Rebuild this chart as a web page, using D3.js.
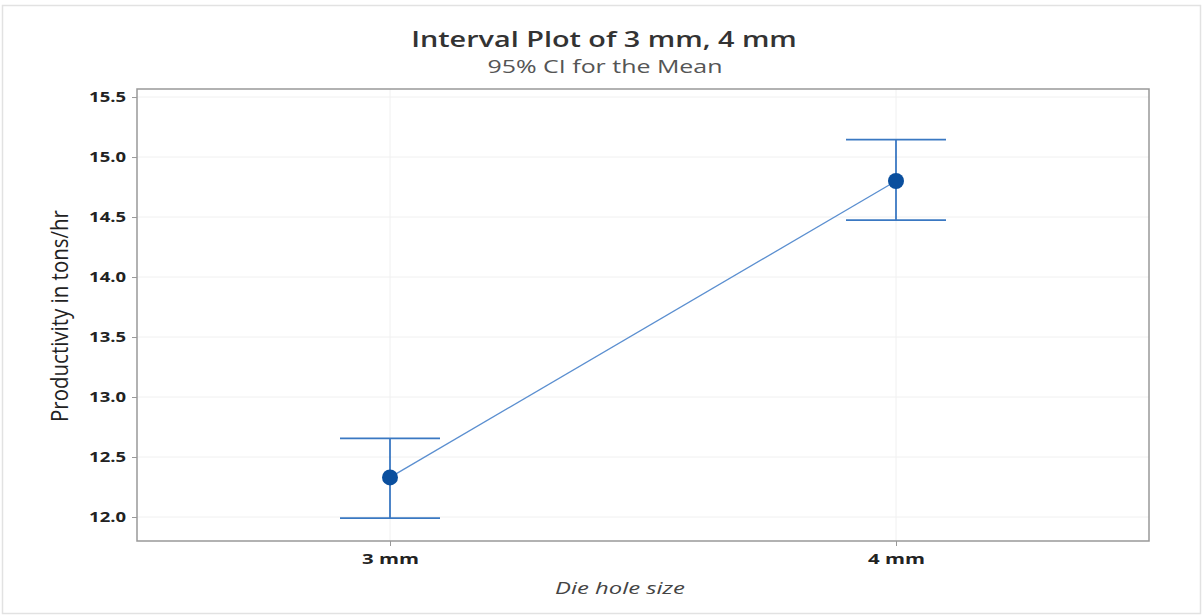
<!DOCTYPE html>
<html>
<head>
<meta charset="utf-8">
<script src="https://cdn.jsdelivr.net/npm/d3@7"></script>
<style>
  body { margin: 0; background: #fff; }
  svg { display: block; }
  text { font-family: 'Open Sans', sans-serif; }
</style>
</head>
<body>
<svg id="chart" width="1204" height="616"></svg>
<script>
const categories = ["3 mm", "4 mm"];
const means = [12.33, 14.80];
const lowers = [11.99, 14.475];
const uppers = [12.655, 15.145];
const yTicks = [12.0, 12.5, 13.0, 13.5, 14.0, 14.5, 15.0, 15.5];

const svg = d3.select("#chart");
const margin = { left: 137, right: 55, top: 89, bottom: 75 };
const width = 1204, height = 616;

// the picture is stretched sideways, so text is widened to match
function stretchTo(sel, target, cx, cy) {
  const len = sel.node().getComputedTextLength();
  const s = target / len;
  sel.attr("transform", `translate(${cx},${cy}) scale(${s},1) translate(${-cx},${-cy})`);
  return s;
}

// outer frame
svg.append("rect")
  .attr("x", 2.5).attr("y", 5.5)
  .attr("width", 1198).attr("height", 608)
  .attr("fill", "#fff").attr("stroke", "#e2e2e2").attr("stroke-width", 1.5);

const x = d3.scalePoint()
  .domain(categories)
  .range([margin.left, width - margin.right])
  .padding(0.5);

const y = d3.scaleLinear()
  .domain([11.8, 15.567])
  .range([height - margin.bottom, margin.top]);

// gridlines
svg.append("g")
  .selectAll("line")
  .data(yTicks)
  .join("line")
  .attr("x1", margin.left).attr("x2", width - margin.right)
  .attr("y1", d => y(d)).attr("y2", d => y(d))
  .attr("stroke", "#f0f0f0");

svg.append("g")
  .selectAll("line")
  .data(categories)
  .join("line")
  .attr("x1", d => x(d)).attr("x2", d => x(d))
  .attr("y1", margin.top).attr("y2", height - margin.bottom)
  .attr("stroke", "#f0f0f0");

// axes
const yAxis = svg.append("g")
  .attr("transform", `translate(${margin.left},0)`)
  .call(d3.axisLeft(y).tickValues(yTicks).tickFormat(d3.format(".1f")).tickSize(5).tickPadding(6));

const xAxis = svg.append("g")
  .attr("transform", `translate(0,${height - margin.bottom})`)
  .call(d3.axisBottom(x).tickSize(5).tickPadding(8));

[yAxis, xAxis].forEach(a => {
  a.select(".domain").remove();
  a.selectAll(".tick line").attr("stroke", "#999");
  a.selectAll(".tick text")
    .attr("fill", "#222")
    .style("font-size", "14px")
    .style("font-weight", "bold");
});

// widen tick labels
const ySample = yAxis.select(".tick text");
const ys = 37 / ySample.node().getComputedTextLength();
yAxis.selectAll(".tick text")
  .attr("transform", "translate(-11,0) scale(" + ys + ",1) translate(11,0)");
const xSample = xAxis.select(".tick text");
const xs = 57 / xSample.node().getComputedTextLength();
xAxis.selectAll(".tick text")
  .attr("transform", "scale(" + xs + ",1)");

// plot frame
svg.append("rect")
  .attr("x", margin.left).attr("y", margin.top)
  .attr("width", width - margin.left - margin.right)
  .attr("height", height - margin.top - margin.bottom)
  .attr("fill", "none").attr("stroke", "#999").attr("stroke-width", 1.5);

// connect line
const line = d3.line()
  .x((d, i) => x(categories[i]))
  .y(d => y(d));

svg.append("path")
  .datum(means)
  .attr("d", line)
  .attr("fill", "none")
  .attr("stroke", "#5b8fd0")
  .attr("stroke-width", 1.3);

// intervals
const capHalf = 50;
const g = svg.append("g").attr("stroke", "#3a78c2").attr("stroke-width", 1.8);
g.selectAll("line.bar")
  .data(categories)
  .join("line")
  .attr("class", "bar")
  .attr("x1", d => x(d)).attr("x2", d => x(d))
  .attr("y1", (d, i) => y(lowers[i])).attr("y2", (d, i) => y(uppers[i]));
g.selectAll("line.top")
  .data(categories)
  .join("line")
  .attr("class", "top")
  .attr("x1", d => x(d) - capHalf).attr("x2", d => x(d) + capHalf)
  .attr("y1", (d, i) => y(uppers[i])).attr("y2", (d, i) => y(uppers[i]));
g.selectAll("line.bot")
  .data(categories)
  .join("line")
  .attr("class", "bot")
  .attr("x1", d => x(d) - capHalf).attr("x2", d => x(d) + capHalf)
  .attr("y1", (d, i) => y(lowers[i])).attr("y2", (d, i) => y(lowers[i]));

svg.append("g")
  .selectAll("circle")
  .data(means)
  .join("circle")
  .attr("cx", (d, i) => x(categories[i]))
  .attr("cy", d => y(d))
  .attr("rx", 8)
  .attr("r", 8)
  .attr("fill", "#0a4f9e");

// titles
const title = svg.append("text")
  .attr("x", 604).attr("y", 47)
  .attr("text-anchor", "middle")
  .style("font-size", "21px")
  .style("font-weight", "600")
  .attr("fill", "#333")
  .text("Interval Plot of 3 mm, 4 mm");
stretchTo(title, 386, 604, 47);

const sub = svg.append("text")
  .attr("x", 605).attr("y", 73)
  .attr("text-anchor", "middle")
  .style("font-size", "18px")
  .attr("fill", "#555")
  .text("95% CI for the Mean");
stretchTo(sub, 235, 605, 73);

const ylab = svg.append("text")
  .attr("text-anchor", "middle")
  .style("font-size", "18px")
  .attr("fill", "#222")
  .text("Productivity in tons/hr");
const yl = ylab.node().getComputedTextLength();
ylab.attr("transform", `translate(68,316) rotate(-90) scale(${212 / yl},1.35)`);

const xlab = svg.append("text")
  .attr("x", 620).attr("y", 594)
  .attr("text-anchor", "middle")
  .style("font-size", "16px")
  .style("font-style", "italic")
  .attr("fill", "#444")
  .text("Die hole size");
stretchTo(xlab, 130, 620, 594);
</script>
</body>
</html>
